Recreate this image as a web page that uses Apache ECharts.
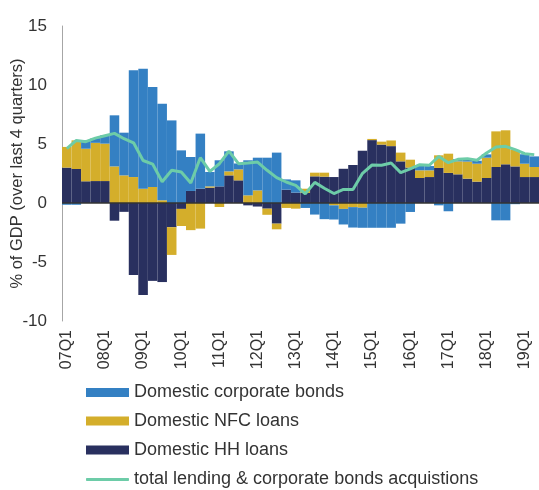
<!DOCTYPE html>
<html>
<head>
<meta charset="utf-8">
<script src="https://cdn.jsdelivr.net/npm/echarts@6/dist/echarts.min.js"></script>
<style>
html,body{margin:0;padding:0;background:#fff;}
#chart{width:539px;height:490px;}
</style>
</head>
<body>
<div id="chart"></div>
<script>
const quarters = [];
for (let y = 7; y <= 19; y++) {
  for (let q = 1; q <= 4; q++) {
    quarters.push((y < 10 ? '0' + y : '' + y) + 'Q' + q);
  }
}
const categories = quarters.slice(0, 50); // 07Q1 .. 19Q2

const corporateBonds = [-0.15,-0.15,0.71,0.4,0.7,4.33,3.62,9.04,10.17,8.47,
  8.19,7.0,4.46,2.88,4.67,1.22,2.21,1.7,0.5,2.97,
  2.77,3.84,4.27,0.87,1.04,-0.42,-0.98,-1.37,-1.2,-1.32,
  -1.73,-1.7,-2.1,-2.1,-2.1,-1.75,-0.76,0.4,0.36,-0.2,
  -0.7,0.2,0.15,0.25,0.28,-1.47,-1.47,-0.1,0.8,0.9];

const nfcLoans = [1.75,2.43,2.76,3.24,3.17,3.1,2.34,2.2,1.21,1.36,
  0.23,-2.35,-1.45,-2.3,-2.17,0.11,-0.34,0.34,0.93,0.65,
  1.07,-0.52,-0.48,-0.42,-0.48,0.36,0.31,0.34,-0.2,-0.5,
  -0.35,-0.4,0.1,0.25,0.48,0.74,0.67,0.65,0.57,1.07,
  1.63,1.1,1.45,1.52,1.72,3.02,2.88,1.4,1.13,0.85];

const hhLoans = [3.0,2.88,1.84,1.86,1.86,-1.5,-0.75,-6.1,-7.8,-6.6,
  -6.7,-2.05,-0.5,1.02,1.21,1.3,1.41,2.34,1.92,-0.2,
  -0.3,-0.48,-1.75,1.13,0.88,0.85,2.26,2.23,2.2,2.9,
  3.22,4.43,5.33,4.95,4.82,3.53,3.0,2.12,2.2,2.97,
  2.55,2.43,2.06,1.81,2.12,3.05,3.28,3.1,2.2,2.2];

const totalLending = [4.6,5.3,5.2,5.5,5.7,5.9,5.45,5.1,3.6,3.3,
  1.8,2.77,2.63,1.7,3.84,2.68,3.33,4.4,3.33,3.39,
  3.47,2.77,2.15,1.78,1.5,0.78,1.75,1.25,0.8,1.15,
  1.15,2.52,3.22,3.2,3.39,2.57,2.9,3.25,3.2,3.95,
  3.42,3.7,3.76,3.62,4.24,4.75,4.8,4.52,4.18,4.1];

const yTicks = { min: -10, max: 15, interval: 5 };
const seriesNames = ['Domestic corporate bonds','Domestic NFC loans','Domestic HH loans','total lending & corporate bonds acquistions'];
const colors = { bonds: '#3480c3', nfc: '#d4ae2b', hh: '#29305f', total: '#6dcca8' };

const chart = echarts.init(document.getElementById('chart'), null, { renderer: 'canvas' });
const font = 'Liberation Sans, Arial, sans-serif';

const legendTops = [383.5, 412, 441, 470.5];
function mkLegend(i, icon, h) {
  return {
    orient: 'vertical', left: 86, top: legendTops[i],
    itemWidth: 43, itemHeight: h, itemGap: 0, padding: 0,
    textStyle: { fontSize: 18, color: '#333', fontFamily: font },
    data: [{ name: seriesNames[i], icon: icon }]
  };
}

chart.setOption({
  animation: false,
  textStyle: { fontFamily: font },
  grid: { left: 62, right: 0, top: 26, bottom: 169, containLabel: false, outerBoundsMode: 'none' },
  legend: [
    mkLegend(0, 'rect', 9),
    mkLegend(1, 'rect', 9),
    mkLegend(2, 'rect', 9),
    mkLegend(3, 'roundRect', 3)
  ],
  xAxis: {
    type: 'category',
    data: categories,
    boundaryGap: true,
    axisLine: { show: false, onZero: false },
    axisTick: { show: false },
    axisLabel: { interval: 3, rotate: 90, fontSize: 16, color: '#333', margin: 9, fontFamily: font },
    splitLine: { show: false }
  },
  yAxis: {
    type: 'value',
    min: yTicks.min, max: yTicks.max, interval: yTicks.interval,
    name: '% of GDP (over last 4 quarters)',
    nameLocation: 'middle',
    nameGap: 36,
    nameMoveOverlap: false,
    nameTextStyle: { fontSize: 16.5, color: '#333', fontFamily: font },
    axisLine: { show: true, lineStyle: { color: '#a6a6a6', width: 1 } },
    axisTick: { show: false },
    axisLabel: { fontSize: 17, color: '#333', margin: 15, fontFamily: font },
    splitLine: { show: false }
  },
  series: [
    {
      name: seriesNames[2], type: 'bar', stack: 'total', data: hhLoans,
      barCategoryGap: '0%', itemStyle: { color: colors.hh }
    },
    {
      name: seriesNames[1], type: 'bar', stack: 'total', data: nfcLoans,
      barCategoryGap: '0%', itemStyle: { color: colors.nfc }
    },
    {
      name: seriesNames[0], type: 'bar', stack: 'total', data: corporateBonds,
      barCategoryGap: '0%', itemStyle: { color: colors.bonds },
      markLine: {
        silent: true, symbol: 'none', label: { show: false },
        lineStyle: { color: '#333', width: 1.5, type: 'solid' },
        data: [{ yAxis: 0 }]
      }
    },
    {
      name: seriesNames[3], type: 'line', data: totalLending,
      symbol: 'none', showSymbol: false, z: 5,
      lineStyle: { color: colors.total, width: 3 },
      itemStyle: { color: colors.total }
    }
  ]
});
</script>
</body>
</html>
